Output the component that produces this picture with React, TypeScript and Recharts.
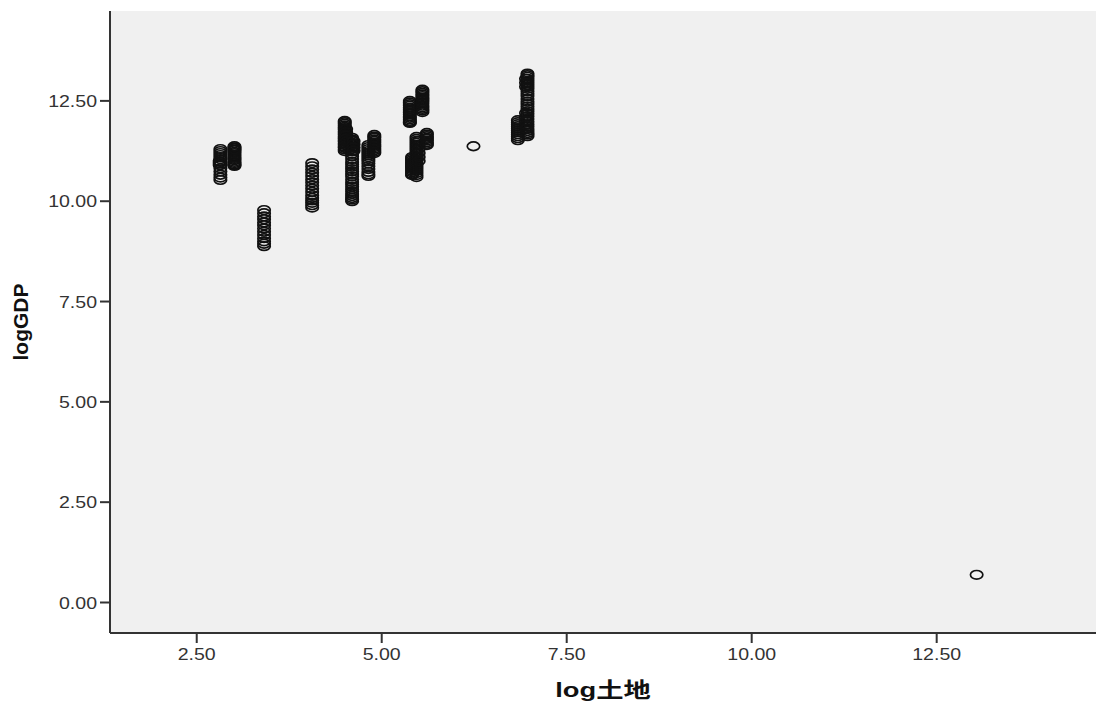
import React from 'react';
import { ScatterChart, Scatter, XAxis, YAxis, CartesianGrid } from 'recharts';

// log land value of each cluster (x) and the logGDP values observed at that x
const clusterLogLand = [2.82, 2.81, 3.01, 3.41, 4.06, 4.5, 4.52, 4.6, 4.62, 4.82, 4.9, 5.38, 5.55, 5.41, 5.47, 5.5, 5.61, 6.24, 6.84, 6.97, 6.95, 13.04];

const gdpA = [11.3, 11.25, 11.2, 11.15, 11.1, 11.05, 10.98, 10.9, 10.82, 10.74, 10.66, 10.59, 10.53];
const gdpA2 = [11.0, 10.95, 10.9];
const gdpB = [11.37, 11.34, 11.32, 11.29, 11.27, 11.23, 11.2, 11.16, 11.12, 11.08, 11.05, 11.02, 10.98, 10.95, 10.92, 10.9, 10.88];
const gdpC = [9.78, 9.7, 9.62, 9.55, 9.47, 9.4, 9.32, 9.24, 9.16, 9.08, 9.0, 8.94, 8.88];
const gdpD = [10.95, 10.87, 10.79, 10.71, 10.63, 10.55, 10.47, 10.39, 10.31, 10.23, 10.15, 10.08, 10.02, 9.96, 9.9, 9.84];
const gdpE = [12.0, 11.97, 11.93, 11.89, 11.85, 11.82, 11.78, 11.74, 11.7, 11.66, 11.62, 11.58, 11.55, 11.51, 11.48, 11.44, 11.4, 11.36, 11.33, 11.29, 11.25];
const gdpE2 = [11.8, 11.72, 11.64, 11.56, 11.48, 11.4, 11.32];
const gdpF = [11.58, 11.54, 11.5, 11.46, 11.42, 11.36, 11.3, 11.24, 11.18, 11.12, 11.05, 10.98, 10.92, 10.86, 10.8, 10.74, 10.68, 10.62, 10.55, 10.48, 10.42, 10.36, 10.3, 10.24, 10.18, 10.13, 10.08, 10.04, 10.0];
const gdpF2 = [11.5, 11.42, 11.34, 11.26];
const gdpG1 = [11.4, 11.35, 11.3, 11.25, 11.2, 11.15, 11.1, 11.05, 11.0, 10.94, 10.87, 10.8, 10.73, 10.67, 10.63];
const gdpG2 = [11.65, 11.61, 11.58, 11.54, 11.5, 11.46, 11.42, 11.38, 11.35, 11.31, 11.27, 11.23, 11.2];
const gdpH1 = [12.5, 12.46, 12.42, 12.38, 12.33, 12.29, 12.25, 12.21, 12.17, 12.12, 12.08, 12.04, 12.0, 11.97, 11.95];
const gdpH2 = [12.78, 12.74, 12.7, 12.66, 12.62, 12.58, 12.55, 12.51, 12.47, 12.43, 12.38, 12.34, 12.3, 12.26, 12.22];
const gdpI1 = [11.1, 11.06, 11.02, 10.98, 10.95, 10.91, 10.88, 10.84, 10.8, 10.76, 10.72, 10.68, 10.65];
const gdpI2 = [11.6, 11.55, 11.5, 11.45, 11.4, 11.35, 11.3, 11.25, 11.2, 11.15, 11.1, 11.05, 11.0, 10.95, 10.9, 10.85, 10.8, 10.75, 10.7, 10.65, 10.6];
const gdpI2b = [11.5, 11.4, 11.3, 11.2, 11.1, 11.0];
const gdpI3 = [11.7, 11.66, 11.62, 11.58, 11.55, 11.51, 11.47, 11.43, 11.4];
const gdpSingle = [11.37];
const gdpJ1 = [12.02, 11.97, 11.92, 11.87, 11.82, 11.77, 11.72, 11.67, 11.62, 11.57, 11.52];
const gdpJ2 = [13.18, 13.14, 13.1, 13.05, 13.0, 12.95, 12.9, 12.85, 12.8, 12.74, 12.68, 12.62, 12.55, 12.48, 12.42, 12.36, 12.3, 12.24, 12.18, 12.12, 12.05, 11.98, 11.92, 11.86, 11.8, 11.75, 11.7, 11.66, 11.62];
const gdpJ3 = [13.05, 12.95, 12.85, 12.2, 12.1, 12.0, 11.9, 11.8];
const gdpOutlier = [0.69];

const clusterGdp = [gdpA, gdpA2, gdpB, gdpC, gdpD, gdpE, gdpE2, gdpF, gdpF2, gdpG1, gdpG2, gdpH1, gdpH2, gdpI1, gdpI2, gdpI2b, gdpI3, gdpSingle, gdpJ1, gdpJ2, gdpJ3, gdpOutlier];

const xTicks = [2.5, 5, 7.5, 10, 12.5];
const yTicks = [0, 2.5, 5, 7.5, 10, 12.5];
const xDomain = [1.328, 14.653];
const yDomain = [-0.76, 14.74];

const data = clusterLogLand.flatMap((x, i) => clusterGdp[i].map((y) => ({ x, y })));

const tickFont = { fontFamily: '"Liberation Sans", Arial, sans-serif', fontSize: 17, fill: '#333' };

const XTick = (props: any) => {
  const { x, y, payload } = props;
  return (
    <g transform={`translate(${x},${y})`}>
      <text transform="scale(1.15,1)" textAnchor="middle" dy="0.71em" {...tickFont}>
        {Number(payload.value).toFixed(2)}
      </text>
    </g>
  );
};

const YTick = (props: any) => {
  const { x, y, payload } = props;
  return (
    <g transform={`translate(${x},${y})`}>
      <text transform="scale(1.15,1)" textAnchor="end" dy="0.36em" {...tickFont}>
        {Number(payload.value).toFixed(2)}
      </text>
    </g>
  );
};

const Ring = (props: any) => {
  const { cx, cy } = props;
  if (cx == null || cy == null) return null;
  return <ellipse cx={cx} cy={cy} rx={6.2} ry={4.3} fill="none" stroke="#111" strokeWidth={1.7} />;
};

const XLabel = (props: any) => {
  const vb = props.viewBox || {};
  const cx = vb.x + vb.width / 2;
  const y = vb.y + 64;
  return (
    <g transform={`translate(${cx},${y}) scale(1.3,1)`}>
      <text textAnchor="middle" fontFamily='"Liberation Sans", Arial, "Noto Sans CJK SC", sans-serif' fontWeight="bold" fontSize={21} fill="#111">
        log土地
      </text>
    </g>
  );
};

const YLabel = (props: any) => {
  const vb = props.viewBox || {};
  const cy = vb.y + vb.height / 2;
  const x = 28;
  return (
    <text
      x={x}
      y={cy}
      transform={`rotate(-90, ${x}, ${cy})`}
      textAnchor="middle"
      fontFamily='"Liberation Sans", Arial, sans-serif'
      fontWeight="bold"
      fontSize={21}
      fill="#111"
    >
      logGDP
    </text>
  );
};

export default function App() {
  return (
    <div style={{ position: 'absolute', left: 0, top: 0, width: 1097, height: 709, background: '#fff' }}>
      <ScatterChart width={1097} height={709} margin={{ top: 11, right: 1, bottom: 0, left: 0 }}>
        <CartesianGrid horizontal={false} vertical={false} fill="#f0f0f0" />
        <XAxis
          xAxisId="top"
          orientation="top"
          type="number"
          dataKey="x"
          domain={xDomain}
          allowDataOverflow
          tick={false}
          tickLine={false}
          height={0}
          axisLine={{ stroke: '#222', strokeWidth: 2 }}
        />
        <YAxis
          yAxisId="right"
          orientation="right"
          type="number"
          dataKey="y"
          domain={yDomain}
          allowDataOverflow
          tick={false}
          tickLine={false}
          width={0}
          axisLine={{ stroke: '#999', strokeWidth: 2 }}
        />
        <XAxis
          type="number"
          dataKey="x"
          domain={xDomain}
          ticks={xTicks}
          allowDataOverflow
          height={76}
          tickSize={10}
          tickMargin={5}
          tick={<XTick />}
          axisLine={{ stroke: '#333', strokeWidth: 2 }}
          tickLine={{ stroke: '#333', strokeWidth: 2 }}
          label={<XLabel />}
        />
        <YAxis
          type="number"
          dataKey="y"
          domain={yDomain}
          ticks={yTicks}
          allowDataOverflow
          width={110}
          tickSize={10}
          tickMargin={3}
          tick={<YTick />}
          axisLine={{ stroke: '#333', strokeWidth: 2 }}
          tickLine={{ stroke: '#333', strokeWidth: 2 }}
          label={<YLabel />}
        />
        <Scatter data={data} shape={<Ring />} isAnimationActive={false} />
      </ScatterChart>
    </div>
  );
}
